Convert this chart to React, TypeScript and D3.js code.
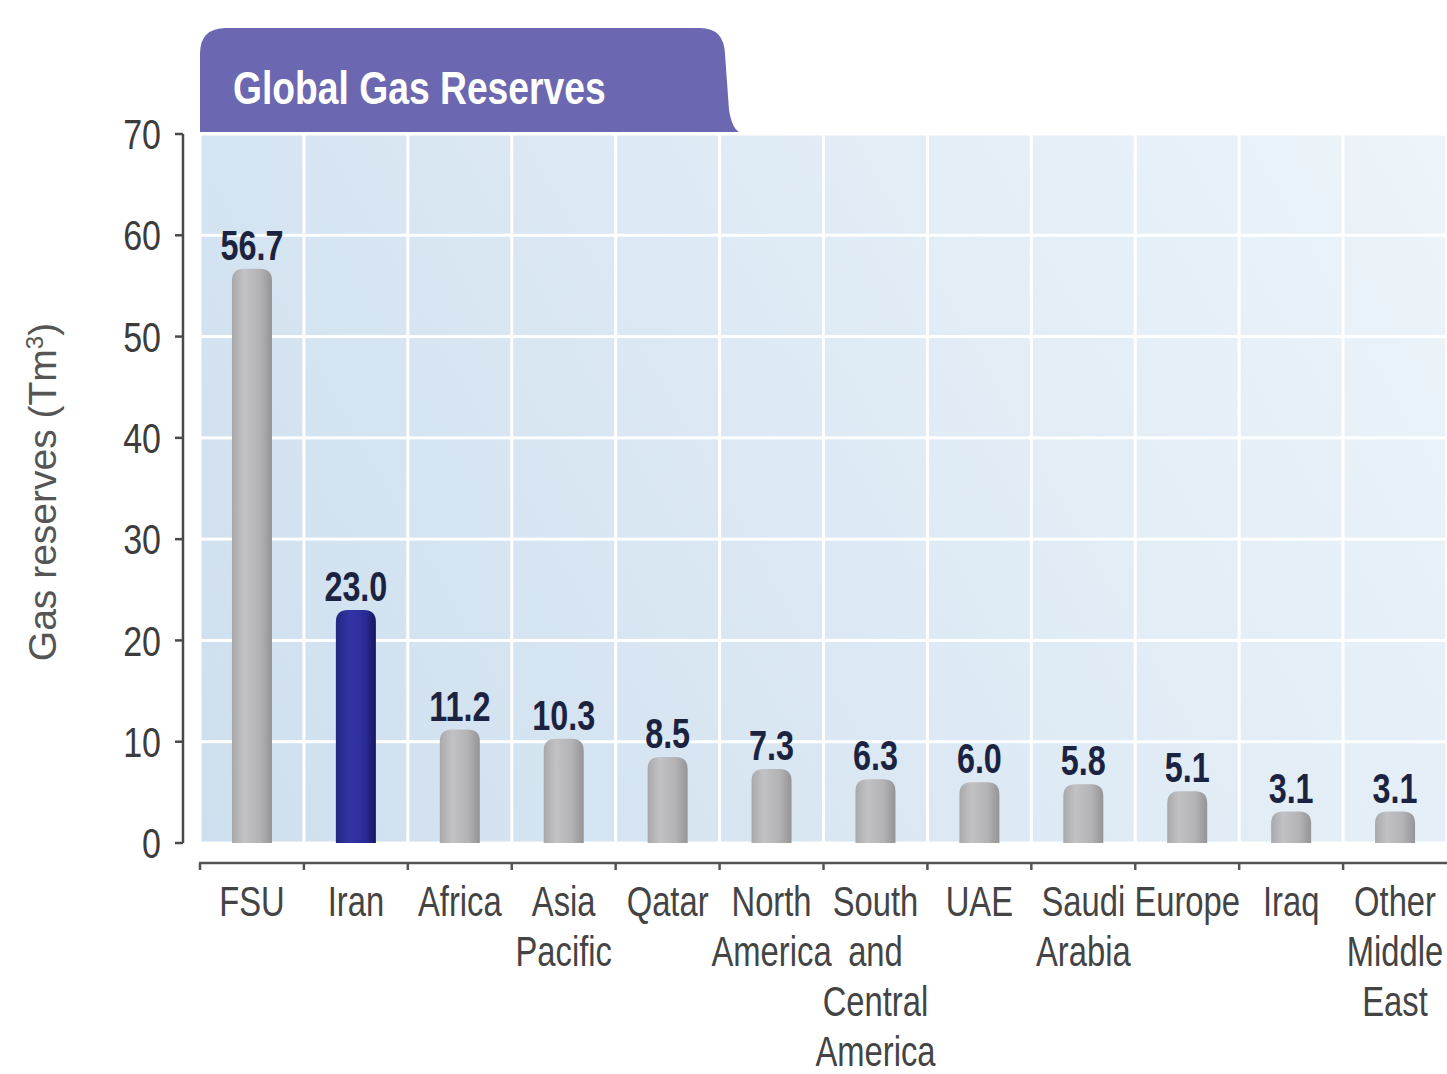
import React from "react";
import * as d3 from "d3";

const categories = ["FSU", "Iran", "Africa", "Asia Pacific", "Qatar", "North America", "South and Central America", "UAE", "Saudi Arabia", "Europe", "Iraq", "Other Middle East"];
const labelLines = [["FSU"], ["Iran"], ["Africa"], ["Asia", "Pacific"], ["Qatar"], ["North", "America"], ["South", "and", "Central", "America"], ["UAE"], ["Saudi", "Arabia"], ["Europe"], ["Iraq"], ["Other", "Middle", "East"]];
const values = [56.7, 23.0, 11.2, 10.3, 8.5, 7.3, 6.3, 6.0, 5.8, 5.1, 3.1, 3.1];
const highlighted = ["Iran"];
const yTicks = [0, 10, 20, 30, 40, 50, 60, 70];

const SANS = "'Liberation Sans', Arial, sans-serif";

export default function App() {
  const W = 1447, H = 1074;
  const y = d3.scaleLinear().domain([0, 70]).range([843, 134]);
  const x = d3.scaleBand<string>().domain(categories).range([200, 1447]).padding(0);
  const bw = x.bandwidth();
  const barW = 40;
  const r = 12;
  const axisY = 863;

  const barPath = (cx: number, v: number) => {
    const x0 = cx - barW / 2, x1 = cx + barW / 2;
    const yt = y(v), yb = y(0);
    const rr = Math.min(r, (yb - yt));
    const p = d3.path();
    p.moveTo(x0, yb);
    p.lineTo(x0, yt + rr);
    p.quadraticCurveTo(x0, yt, x0 + rr, yt);
    p.lineTo(x1 - rr, yt);
    p.quadraticCurveTo(x1, yt, x1, yt + rr);
    p.lineTo(x1, yb);
    p.closePath();
    return p.toString();
  };

  const rows = d3.range(0, 70, 10);

  return (
    <svg width={W} height={H} style={{ position: "absolute", left: 0, top: 0, background: "#fff" }}>
      <defs>
        <linearGradient id="bgGrad" gradientUnits="userSpaceOnUse" x1="200" y1="843" x2="1447" y2="134">
          <stop offset="0" stopColor="#c8dbec" />
          <stop offset="0.5" stopColor="#d9e7f3" />
          <stop offset="1" stopColor="#ebf3f9" />
        </linearGradient>
        <linearGradient id="grayBar" x1="0" y1="0" x2="1" y2="0">
          <stop offset="0" stopColor="#a9a9ab" />
          <stop offset="0.3" stopColor="#c2c2c4" />
          <stop offset="0.7" stopColor="#b3b3b5" />
          <stop offset="1" stopColor="#949496" />
        </linearGradient>
        <linearGradient id="blueBar" x1="0" y1="0" x2="1" y2="0">
          <stop offset="0" stopColor="#24267e" />
          <stop offset="0.35" stopColor="#3434a6" />
          <stop offset="0.75" stopColor="#2a2a96" />
          <stop offset="1" stopColor="#16165e" />
        </linearGradient>
      </defs>

      {/* tiled plot background */}
      <g>
        {categories.map((c) =>
          rows.map((v) => (
            <rect
              key={c + v}
              x={(x(c) as number) + 1.5}
              y={y(v + 10) + 1.5}
              width={bw - 3}
              height={y(v) - y(v + 10) - 3}
              fill="url(#bgGrad)"
              opacity={0.9}
            />
          ))
        )}
      </g>

      {/* title tab */}
      <path d="M200,132 L200,54 Q200,28 226,28 L700,28 Q724,28 725,54 L729,110 Q732,128 739,132 Z" fill="#6b67b0" />
      <text transform={`translate(233,104) scale(0.81,1)`} fill="#ffffff" fontFamily={SANS} fontWeight="bold" fontSize={46}>Global Gas Reserves</text>

      {/* y axis */}
      <g>
        <line x1={183} x2={183} y1={y(70)} y2={y(0)} stroke="#4a4a4a" strokeWidth={2.5} />
        {yTicks.map((t) => (
          <g key={t}>
            <line x1={175} x2={183} y1={y(t)} y2={y(t)} stroke="#4a4a4a" strokeWidth={2.5} />
            <text transform={`translate(161,${y(t)}) scale(0.81,1)`} dy="0.36em" textAnchor="end" fill="#3c3c3c" fontFamily={SANS} fontSize={42}>{t}</text>
          </g>
        ))}
      </g>
      <text transform={`translate(56,492) rotate(-90)`} textAnchor="middle" fill="#555" fontFamily={SANS} fontSize={39}>
        Gas reserves (Tm<tspan baselineShift="super" fontSize={24}>3</tspan>)
      </text>

      {/* x axis */}
      <g>
        <line x1={199} x2={1447} y1={axisY} y2={axisY} stroke="#555" strokeWidth={2.5} />
        {categories.map((c) => (
          <line key={c} x1={x(c) as number} x2={x(c) as number} y1={axisY} y2={axisY + 7} stroke="#555" strokeWidth={2.5} />
        ))}
        {categories.map((c, i) => (
          <text key={c} transform={`translate(${(x(c) as number) + bw / 2},916) scale(0.78,1)`} textAnchor="middle" fill="#444" fontFamily={SANS} fontSize={42}>
            {labelLines[i].map((ln, k) => (
              <tspan key={k} x={0} y={k * 50}>{ln}</tspan>
            ))}
          </text>
        ))}
      </g>

      {/* bars */}
      <g>
        {categories.map((c, i) => {
          const cx = (x(c) as number) + bw / 2;
          return (
            <path key={c} d={barPath(cx, values[i])} fill={highlighted.includes(c) ? "url(#blueBar)" : "url(#grayBar)"} />
          );
        })}
      </g>

      {/* value labels */}
      <g>
        {categories.map((c, i) => (
          <text key={c} transform={`translate(${(x(c) as number) + bw / 2},${y(values[i]) - 9}) scale(0.77,1)`} textAnchor="middle" fill="#1b2340" fontFamily={SANS} fontWeight="bold" fontSize={42}>
            {values[i].toFixed(1)}
          </text>
        ))}
      </g>
    </svg>
  );
}
